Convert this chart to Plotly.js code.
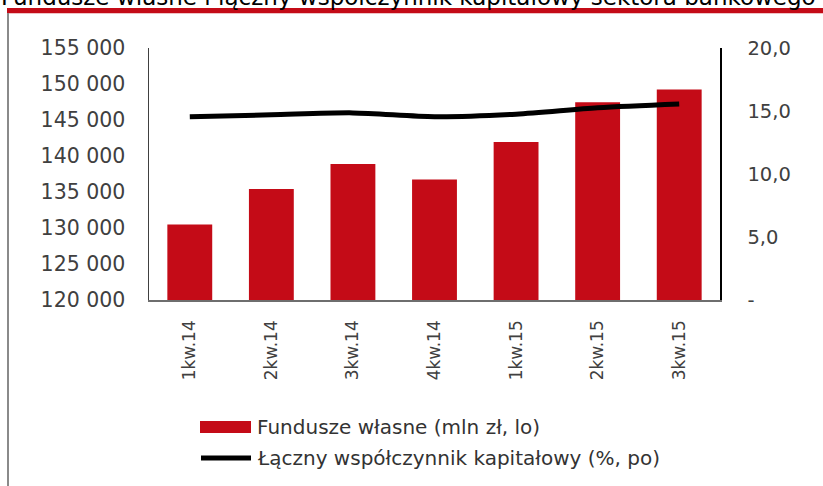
<!DOCTYPE html>
<html>
<head>
<meta charset="utf-8">
<script src="https://cdn.plot.ly/plotly-3.0.1.min.js"></script>
<style>html,body{margin:0;padding:0;background:#fff;}#chart{width:823px;height:486px;}</style>
</head>
<body>
<div id="chart"></div>
<script>
var categories = ["1kw.14", "2kw.14", "3kw.14", "4kw.14", "1kw.15", "2kw.15", "3kw.15"];
var funduszeWlasne = [130500, 135400, 138900, 136750, 141950, 147450, 149250];
var wspolczynnik = [14.55, 14.7, 14.85, 14.55, 14.75, 15.25, 15.55];
var seriesNames = ["Fundusze własne (mln zł, lo)", "Łączny współczynnik kapitałowy (%, po)"];
var titleText = "Fundusze własne i łączny współczynnik kapitałowy sektora bankowego";
var rightTickVals = [0, 5, 10, 15, 20];
var rightTickText = ["-", "5,0", "10,0", "15,0", "20,0"];

var W = 823, H = 486, L = 149, R = 103, T = 48, B = 186;
var pw = W - L - R, ph = H - T - B;
function px(x) { return (x - L) / pw; }
function py(y) { return (H - B - y) / ph; }

var FONT = "DejaVu Sans";
var red = "#c40b17";

var traces = [
  {
    type: "bar", x: categories, y: funduszeWlasne, name: seriesNames[0],
    marker: { color: red }, yaxis: "y", showlegend: false, hoverinfo: "skip"
  },
  {
    type: "scatter", mode: "lines", x: categories, y: wspolczynnik, name: seriesNames[1],
    line: { color: "#000000", width: 5, shape: "spline", smoothing: 0.8 },
    yaxis: "y2", showlegend: false, hoverinfo: "skip"
  }
];

var layout = {
  width: W, height: H,
  margin: { l: L, r: R, t: T, b: B, pad: 0 },
  paper_bgcolor: "#ffffff", plot_bgcolor: "#ffffff",
  separators: ", ",
  font: { family: FONT, size: 19, color: "#404040" },
  bargap: 0.45,
  showlegend: false,
  xaxis: {
    type: "category", tickangle: -90, showgrid: false, zeroline: false,
    showline: true, linecolor: "#6e6e6e", linewidth: 1.5, ticks: "",
    tickfont: { family: FONT, size: 17, color: "#404040" },
    ticklabelstandoff: 12
  },
  yaxis: {
    range: [120000, 155000], dtick: 5000, tickformat: ",d",
    showgrid: false, zeroline: false, showline: true, linecolor: "#404040", linewidth: 1.5,
    ticks: "", ticklabelstandoff: 18,
    tickfont: { family: FONT, size: 20.5, color: "#404040" }
  },
  yaxis2: {
    overlaying: "y", side: "right", range: [0, 20],
    tickvals: rightTickVals, ticktext: rightTickText,
    showgrid: false, zeroline: false, showline: true, linecolor: "#000000", linewidth: 1.5,
    ticks: "", ticklabelstandoff: 22,
    tickfont: { family: FONT, size: 19.5, color: "#404040" }
  },
  shapes: [
    { type: "rect", xref: "paper", yref: "paper", x0: px(7), x1: px(823), y0: py(13.3), y1: py(8),
      fillcolor: red, line: { width: 0 } },
    { type: "line", xref: "paper", yref: "paper", x0: px(8), x1: px(8), y0: py(13), y1: py(490),
      line: { color: "#8a8a8a", width: 2 } },
    { type: "rect", xref: "paper", yref: "paper", x0: px(200), x1: px(251), y0: py(433), y1: py(421),
      fillcolor: red, line: { width: 0 } },
    { type: "line", xref: "paper", yref: "paper", x0: px(201), x1: px(251), y0: py(458), y1: py(458),
      line: { color: "#000000", width: 5 } }
  ],
  annotations: [
    { xref: "paper", yref: "paper", x: px(-1), y: py(12.5), xanchor: "left", yanchor: "bottom",
      text: titleText, showarrow: false, font: { family: FONT, size: 23, color: "#000000" } },
    { xref: "paper", yref: "paper", x: px(255), y: py(427), xanchor: "left", yanchor: "middle",
      text: seriesNames[0], showarrow: false, font: { family: FONT, size: 20, color: "#333333" } },
    { xref: "paper", yref: "paper", x: px(255), y: py(458), xanchor: "left", yanchor: "middle",
      text: seriesNames[1], showarrow: false, font: { family: FONT, size: 20, color: "#333333" } }
  ]
};

Plotly.newPlot("chart", traces, layout, { staticPlot: true, displayModeBar: false });
</script>
</body>
</html>
